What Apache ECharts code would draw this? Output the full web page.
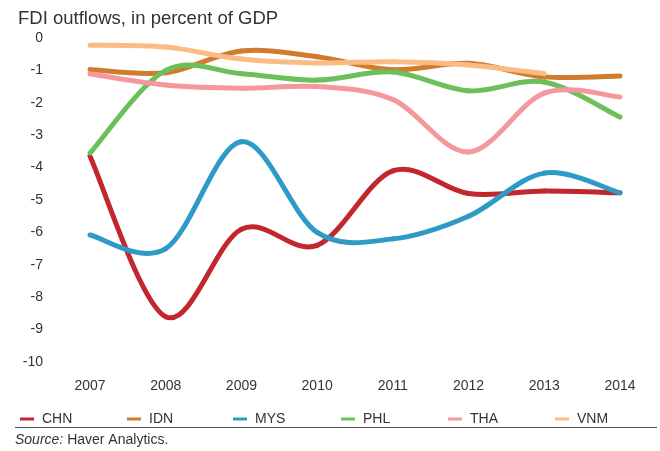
<!DOCTYPE html>
<html><head><meta charset="utf-8">
<script src="https://cdn.jsdelivr.net/npm/echarts@6/dist/echarts.min.js"></script>
<style>html,body{margin:0;padding:0;background:#fff}#c{width:660px;height:451px}</style>
</head><body><div id="c"></div>
<script>
var years = ['2007','2008','2009','2010','2011','2012','2013','2014'];
var CHN = [-3.65, -8.6, -5.9, -6.4, -4.1, -4.8, -4.72, -4.78];
var IDN = [-0.97, -1.07, -0.4, -0.58, -0.98, -0.78, -1.2, -1.17];
var MYS = [-6.08, -6.5, -3.2, -6.0, -6.2, -5.5, -4.17, -4.78];
var PHL = [-3.55, -1.0, -1.1, -1.3, -1.05, -1.63, -1.36, -2.44];
var THA = [-1.11, -1.45, -1.55, -1.5, -1.9, -3.52, -1.7, -1.82];
var VNM = [-0.22, -0.28, -0.65, -0.77, -0.73, -0.83, -1.1, null];
var names = ['CHN','IDN','MYS','PHL','THA','VNM'];
var colors = ['#c1272d','#d07b2d','#2e9ac6','#6cc05a','#f4989e','#fbbc84'];
var datasets = [CHN, IDN, MYS, PHL, THA, VNM];
var legendLeft = [15, 122, 228, 336, 443, 550];

var font = "'Liberation Sans',Arial,sans-serif";
var ptsList = datasets.map(function(arr){
  var out = [];
  arr.forEach(function(v, i){ if (v !== null) out.push([i, v]); });
  return out;
});

function renderSeg(params, api){
  var pts = ptsList[params.seriesIndex];
  var i = params.dataIndex;
  if (i >= pts.length - 1) return null;
  var c = pts.map(function(p){ return api.coord(p); });
  var p0 = c[Math.max(i - 1, 0)], p1 = c[i], p2 = c[i + 1], p3 = c[Math.min(i + 2, c.length - 1)];
  var k = 1 / 6;
  return {
    type: 'bezierCurve',
    shape: {
      x1: p1[0], y1: p1[1],
      cpx1: p1[0] + (p2[0] - p0[0]) * k, cpy1: p1[1] + (p2[1] - p0[1]) * k,
      cpx2: p2[0] - (p3[0] - p1[0]) * k, cpy2: p2[1] - (p3[1] - p1[1]) * k,
      x2: p2[0], y2: p2[1]
    },
    style: {stroke: colors[params.seriesIndex], lineWidth: 5, fill: null, lineCap: 'round'}
  };
}

var chart = echarts.init(document.getElementById('c'));
chart.setOption({
  animation: false,
  title: {
    text: 'FDI outflows, in percent of GDP', left: 13, top: 4,
    textStyle: {fontFamily: font, fontWeight: 'normal', fontSize: 18.5, color: '#333'}
  },
  grid: {left: 90, right: 40, top: 38, bottom: 89},
  xAxis: {
    type: 'category', data: years, boundaryGap: false,
    axisLine: {show: false}, axisTick: {show: false}, splitLine: {show: false},
    axisLabel: {margin: 17, fontFamily: font, fontSize: 14, color: '#333'}
  },
  yAxis: {
    type: 'value', min: -10, max: 0, interval: 1,
    axisLine: {show: false}, axisTick: {show: false}, splitLine: {show: false},
    axisLabel: {margin: 47, fontFamily: font, fontSize: 14, color: '#333'}
  },
  legend: names.map(function(n, i){
    return {
      left: legendLeft[i], top: 407, icon: 'rect', itemWidth: 14, itemHeight: 3,
      data: [n], selectedMode: false,
      textStyle: {fontFamily: font, fontSize: 14, color: '#333', padding: [0,0,0,3]}
    };
  }),
  graphic: [
    {type: 'line', shape: {x1: 15, y1: 427.5, x2: 657, y2: 427.5}, style: {stroke: '#555', lineWidth: 1}},
    {type: 'text', left: 15, top: 433, style: {
      text: '{i|Source:} Haver Analytics.',
      rich: {i: {fontStyle: 'italic', fontFamily: font, fontSize: 14, fill: '#333'}},
      fontFamily: font, fontSize: 14, fill: '#333'
    }}
  ],
  series: names.map(function(n, i){
    return {
      name: n, type: 'custom', data: ptsList[i], encode: {x: 0, y: 1},
      renderItem: renderSeg,
      itemStyle: {color: colors[i]}
    };
  })
});
</script></body></html>
